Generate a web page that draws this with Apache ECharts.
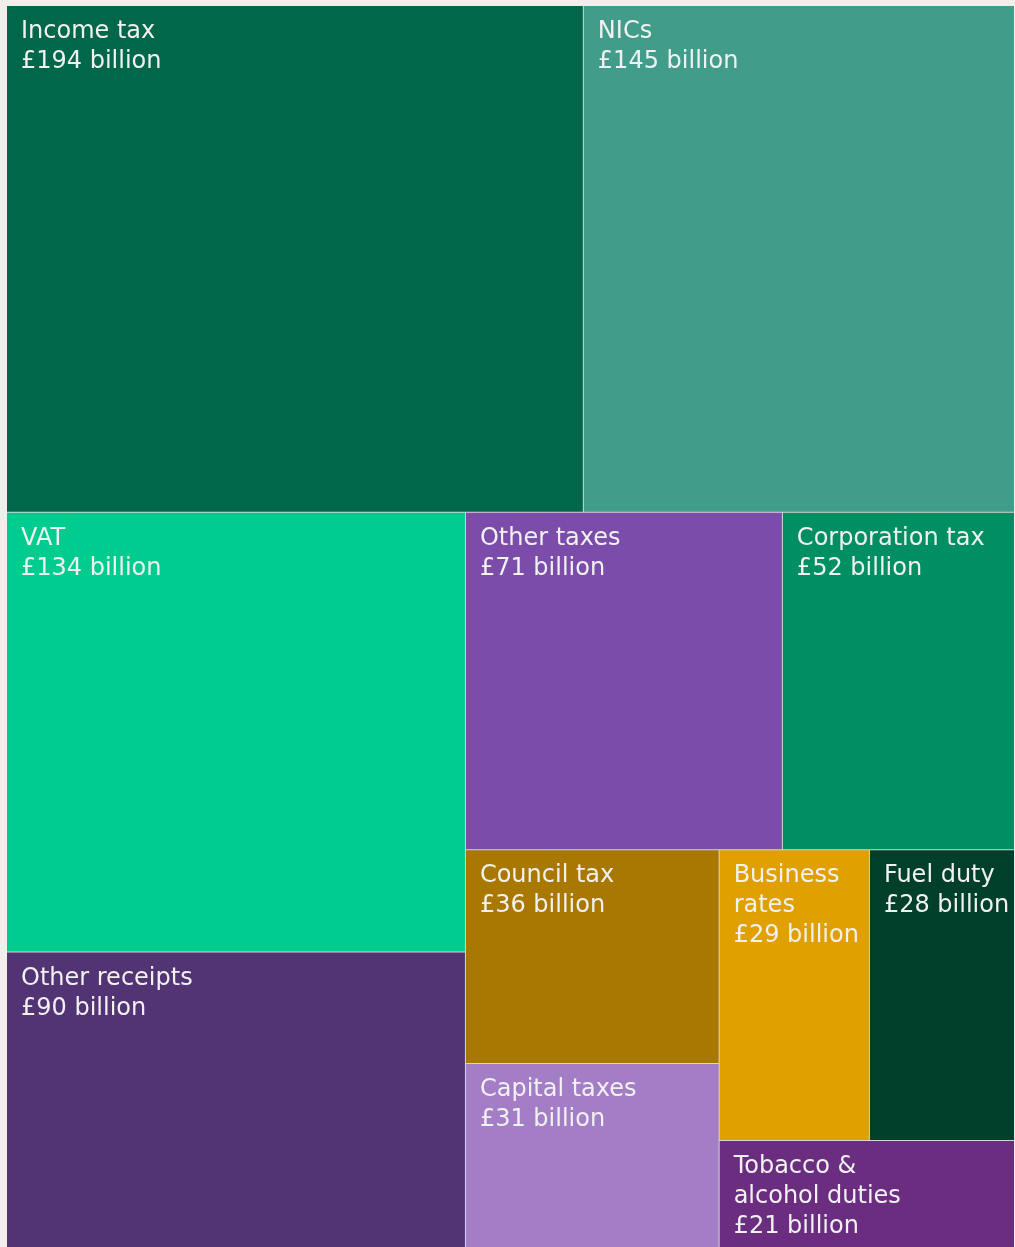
<!DOCTYPE html>
<html>
<head>
<meta charset="utf-8">
<title>Public sector receipts</title>
<script src="https://cdn.jsdelivr.net/npm/echarts@6/dist/echarts.min.js"></script>
<style>
  html, body { margin: 0; padding: 0; background: #f2eeeb; }
  #chart { width: 1015px; height: 1247px; }
</style>
</head>
<body>
<div id="chart"></div>
<script>
// Receipts by source, £ billion
const categories = [
  'Income tax', 'NICs', 'VAT', 'Other receipts', 'Other taxes',
  'Corporation tax', 'Council tax', 'Capital taxes', 'Business\nrates',
  'Fuel duty', 'Tobacco &\nalcohol duties'
];
const values = [194, 145, 134, 90, 71, 52, 36, 31, 29, 28, 21];
const colours = [
  '#00674a', '#429c8a', '#00cc90', '#523373', '#7b4caa',
  '#008f63', '#a87800', '#a37dc6', '#e0a000', '#00402a', '#6b2d80'
];

const data = categories.map((name, i) => ({
  name: name,
  value: values[i],
  itemStyle: { color: colours[i] }
}));

const chart = echarts.init(document.getElementById('chart'));
chart.setOption({
  animation: false,
  series: [{
    type: 'treemap',
    left: 7,
    top: 6,
    right: 1,
    bottom: 0,
    roam: false,
    nodeClick: false,
    breadcrumb: { show: false },
    squareRatio: 1.05,
    itemStyle: {
      borderWidth: 0,
      gapWidth: 1,
      borderColor: '#d9d4d0'
    },
    label: {
      show: true,
      position: 'insideTopLeft',
      color: '#f1f1f1',
      fontFamily: 'DejaVu Sans',
      fontSize: 24,
      lineHeight: 30,
      padding: [11, 4, 0, 14],
      overflow: 'none',
      formatter: p => p.name + '\n£' + p.value + ' billion'
    },
    upperLabel: { show: false },
    data: data
  }]
});
</script>
</body>
</html>
